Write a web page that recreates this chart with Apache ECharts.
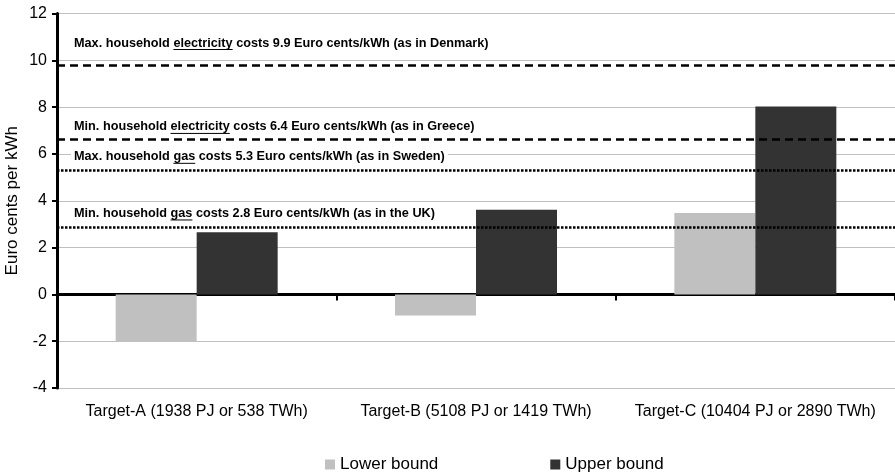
<!DOCTYPE html>
<html>
<head>
<meta charset="utf-8">
<script src="https://cdn.jsdelivr.net/npm/echarts@6/dist/echarts.min.js"></script>
<style>
html,body{margin:0;padding:0;background:#fff;}
#chart{width:895px;height:476px;}
</style>
</head>
<body>
<div id="chart"></div>
<script>
var categories = ['Target-A (1938 PJ or 538 TWh)', 'Target-B (5108 PJ or 1419 TWh)', 'Target-C (10404 PJ or 2890 TWh)'];
var lowerBound = [-2.0, -0.9, 3.48];
var upperBound = [2.65, 3.62, 8.03];
var seriesNames = ['Lower bound', 'Upper bound'];
var yTicks = [-4, -2, 0, 2, 4, 6, 8, 10, 12];
var refValues = [9.8, 6.62, 5.3, 2.88];
var refKinds = ['dashed', 'dashed', 'dotted', 'dotted'];
var refPrefix = ['Max. household ', 'Min. household ', 'Max. household ', 'Min. household '];
var refUnderlined = ['electricity', 'electricity', 'gas', 'gas'];
var refSuffix = [' costs 9.9 Euro cents/kWh (as in Denmark)', ' costs 6.4 Euro cents/kWh (as in Greece)', ' costs 5.3 Euro cents/kWh (as in Sweden)', ' costs 2.8 Euro cents/kWh (as in the UK)'];

var FONT = '"Liberation Sans", Arial, sans-serif';
var chart = echarts.init(document.getElementById('chart'), null, {renderer: 'canvas'});

var lineStyles = {
  dashed: {color: '#000', width: 2.5, type: [8, 5]},
  dotted: {color: '#000', width: 2.5, type: [2.5, 1.5]}
};

var markData = refValues.map(function (v, i) {
  return {yAxis: v, lineStyle: lineStyles[refKinds[i]]};
});

var option = {
  animation: false,
  backgroundColor: '#fff',
  grid: {left: 57, right: 0, top: 13.5, bottom: 88, containLabel: false, outerBoundsMode: 'none'},
  legend: {
    data: seriesNames,
    bottom: -2,
    left: 320,
    itemWidth: 10,
    itemHeight: 10,
    itemGap: 112,
    icon: 'rect',
    textStyle: {fontFamily: FONT, fontSize: 17, color: '#000'}
  },
  xAxis: [{
    type: 'category',
    data: categories,
    axisLine: {onZero: true, lineStyle: {color: '#000', width: 3}},
    axisTick: {show: true, length: 6, lineStyle: {color: '#000', width: 2}},
    axisLabel: {show: false},
    splitLine: {show: false}
  }, {
    type: 'category',
    data: categories,
    position: 'bottom',
    axisLine: {show: false, onZero: false},
    axisTick: {show: false},
    axisLabel: {show: true, interval: 0, margin: 16, fontFamily: FONT, fontSize: 16, color: '#000'},
    splitLine: {show: false}
  }],
  yAxis: {
    type: 'value',
    min: yTicks[0],
    max: yTicks[yTicks.length - 1],
    interval: 2,
    name: 'Euro cents per kWh',
    nameLocation: 'middle',
    nameGap: 36,
    nameMoveOverlap: false,
    nameTextStyle: {fontFamily: FONT, fontSize: 17, color: '#000'},
    axisLine: {show: true, lineStyle: {color: '#000', width: 3}},
    axisTick: {show: true, length: 5, lineStyle: {color: '#000', width: 2}},
    axisLabel: {fontFamily: FONT, fontSize: 16, color: '#000', margin: 10},
    splitLine: {show: true, lineStyle: {color: '#c0c0c0', width: 1}}
  },
  series: [{
    name: seriesNames[0],
    type: 'bar',
    data: lowerBound,
    barWidth: 81,
    barGap: '0%',
    itemStyle: {color: '#c0c0c0'}
  }, {
    name: seriesNames[1],
    type: 'bar',
    data: upperBound,
    barWidth: 81,
    barGap: '0%',
    itemStyle: {color: '#333333'},
    markLine: {
      silent: true,
      symbol: 'none',
      label: {show: false},
      data: markData,
      z: 10
    }
  }]
};
chart.setOption(option);

// annotation texts with underline, placed via axis conversion
var ctx = document.createElement('canvas').getContext('2d');
var annFont = 'bold 12.7px "Liberation Sans", Arial, sans-serif';
ctx.font = annFont;
var gridLeft = 57;
var textX = gridLeft + 14;
var offsets = [22, 12.5, 13.5, 13.5];
var elements = [];
refValues.forEach(function (v, i) {
  var py = chart.convertToPixel({yAxisIndex: 0}, v);
  var ty = py - offsets[i];
  var full = refPrefix[i] + refUnderlined[i] + refSuffix[i];
  var wPre = ctx.measureText(refPrefix[i]).width;
  var wWord = ctx.measureText(refUnderlined[i]).width;
  elements.push({
    type: 'text', z: 20, silent: true,
    x: textX, y: ty,
    style: {text: full, font: annFont, fill: '#000', align: 'left', verticalAlign: 'middle',
            backgroundColor: '#fff', padding: [0, 3, 0, 3]}
  });
  elements.push({
    type: 'line', z: 21, silent: true,
    shape: {x1: textX + 3 + wPre, y1: ty + 6.5, x2: textX + 3 + wPre + wWord, y2: ty + 6.5},
    style: {stroke: '#000', lineWidth: 1}
  });
});
chart.setOption({graphic: {elements: elements}});
</script>
</body>
</html>
